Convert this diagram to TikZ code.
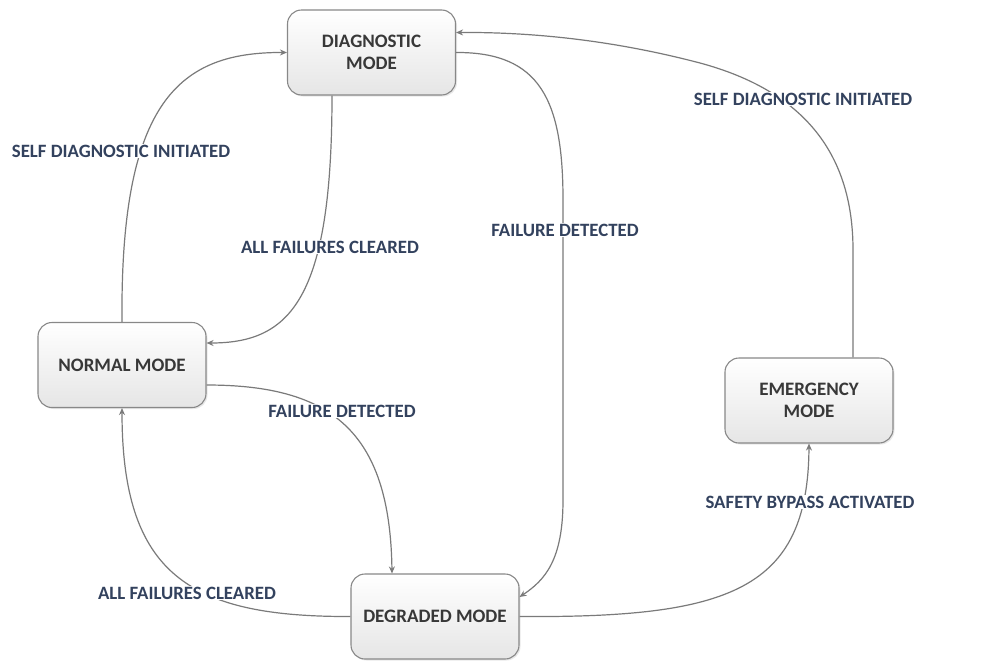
\documentclass[tikz,border=0pt]{standalone}
\usepackage{fontspec}
\setmainfont{Carlito}
\usetikzlibrary{arrows.meta,shadows}
\definecolor{boxtext}{HTML}{383838}
\definecolor{labeltext}{HTML}{33425E}
\definecolor{edgecol}{HTML}{7A7A7A}
\definecolor{boxborder}{HTML}{888888}
\begin{document}
\begin{tikzpicture}[x=1pt,y=-1pt,
  statebox/.style={draw=boxborder, line width=1.1pt, rounded corners=14pt,
    top color=white, bottom color=black!10,
    drop shadow={shadow xshift=1.5pt, shadow yshift=-1.5pt, opacity=0.18},
    minimum width=168pt, minimum height=85pt, align=center,
    font=\fontsize{19}{22}\selectfont\bfseries, text=boxtext},
  translabel/.style={fill=white, inner sep=1pt,
    font=\fontsize{18.8}{21}\selectfont\bfseries, text=labeltext},
  trans/.style={draw=edgecol, line width=1.2pt,
    -{Stealth[length=7pt,width=6pt]}}
]
\useasboundingbox[fill=white] (0,0) rectangle (987,667);

\node[statebox] (diag) at (371.5,52.5) {DIAGNOSTIC\\MODE};
\node[statebox] (normal) at (122,365) {NORMAL MODE};
\node[statebox] (deg) at (435,616.5) {DEGRADED MODE};
\node[statebox] (emer) at (809,400.5) {EMERGENCY\\MODE};

% edges
\draw[trans] (normal.north) .. controls (120,100) and (180,52) .. (diag.west);
\draw[trans] ([xshift=-39.5pt]diag.south) .. controls (332,300) and (290,343) .. ([yshift=22pt]normal.east);
\draw[trans] (diag.east) .. controls (540,52) and (563,100) .. (563,200)
   -- (563,500) .. controls (563,560) and (545,580) .. ([yshift=19.5pt]deg.east);
\draw[trans] ([xshift=44pt]emer.north) -- (853,250) .. controls (853,150) and (800,90) .. (700,63)
   .. controls (620,42) and (540,32) .. ([yshift=20pt]diag.east);
\draw[trans] ([yshift=-20pt]normal.east) .. controls (330,385) and (390,430) .. ([xshift=-43pt]deg.north);
\draw[trans] (deg.west) .. controls (190,617) and (122,575) .. (normal.south);
\draw[trans] (deg.east) .. controls (730,618) and (808,590) .. (emer.south);

% labels
\node[translabel] (l1) at (121,151) {SELF DIAGNOSTIC INITIATED};
\node[translabel] (l2) at (330,247) {ALL FAILURES CLEARED};
\node[translabel] (l3) at (565,230) {FAILURE DETECTED};
\node[translabel] (l4) at (803,99) {SELF DIAGNOSTIC INITIATED};
\node[translabel] (l5) at (342,411) {FAILURE DETECTED};
\node[translabel] (l6) at (187,593) {ALL FAILURES CLEARED};
\node[translabel] (l7) at (810,502) {SAFETY BYPASS ACTIVATED};
\end{tikzpicture}
\end{document}
